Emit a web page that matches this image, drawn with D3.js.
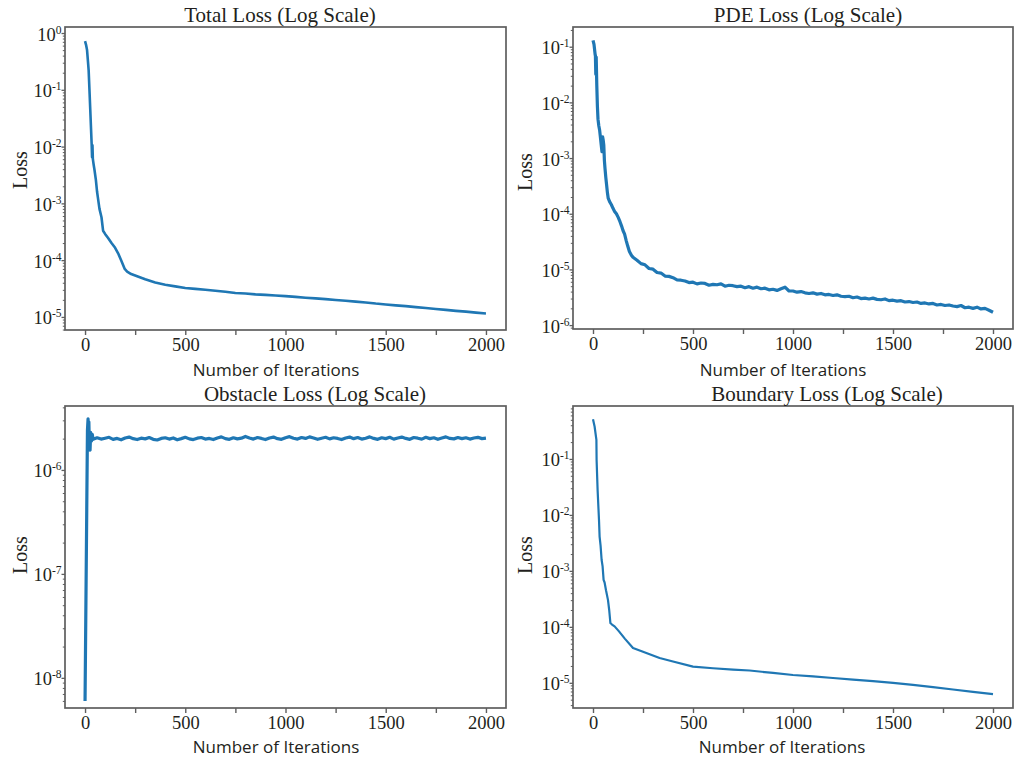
<!DOCTYPE html>
<html>
<head>
<meta charset="utf-8">
<script src="https://cdn.jsdelivr.net/npm/d3@7/dist/d3.min.js"></script>
<style>
    body { margin: 0; background: #fff; }
</style>
</head>
<body>
<svg id="fig" width="1018" height="758"></svg>
<script>
// ---- data ----
const totalIter = [0, 5, 10, 15, 18, 22, 26, 30, 33, 35, 37, 39, 43, 47, 54, 60, 65, 72, 82, 90,
    100, 115, 132, 150, 165, 180, 198, 210, 230, 260, 300, 350, 400, 450,
    500, 550, 600, 650, 700, 750, 800, 850, 900, 950, 1000, 1050, 1100, 1150, 1200, 1250,
    1300, 1350, 1400, 1450, 1500, 1550, 1600, 1650, 1700, 1750, 1800, 1850, 1900, 1950, 2000];
const totalLoss = [0.72, 0.62, 0.5, 0.3, 0.22, 0.1, 0.045, 0.02, 0.011, 0.0065, 0.0105, 0.006, 0.0048, 0.0039, 0.0026, 0.0016, 0.0012, 0.0008, 0.00057, 0.00033,
    0.00029, 0.000245, 0.0002, 0.000165, 0.000132, 0.0001, 0.00007, 0.000063, 0.000057, 0.000052, 0.000046, 0.0000405, 0.000037, 0.0000345,
    3.24e-5, 3.12e-5, 3.02e-5, 2.90e-5, 2.78e-5, 2.64e-5, 2.58e-5, 2.50e-5, 2.45e-5, 2.38e-5, 2.33e-5, 2.26e-5, 2.18e-5, 2.12e-5, 2.06e-5, 1.99e-5,
    1.93e-5, 1.86e-5, 1.80e-5, 1.72e-5, 1.66e-5, 1.60e-5, 1.55e-5, 1.49e-5, 1.44e-5, 1.38e-5, 1.33e-5, 1.28e-5, 1.24e-5, 1.19e-5, 1.15e-5];

const pdeIter = [0, 5, 11, 12, 14, 16, 19, 22, 25, 29, 33, 38, 42, 45, 48, 51, 54, 57, 60, 64,
    68, 72, 76, 83, 92, 100, 108, 117, 126, 135, 143, 150, 158, 166, 174, 182, 192, 200,
    220, 240, 260, 280, 300, 320, 340, 360, 380, 400, 420, 440, 460, 480, 500, 520, 540, 560, 580, 600,
    620, 640, 660, 680, 700, 720, 740, 760, 780, 800, 820, 840, 860, 880, 900, 920, 940, 960, 980, 1000,
    1020, 1040, 1060, 1080, 1100, 1120, 1140, 1160, 1180, 1200, 1220, 1240, 1260, 1280, 1300, 1320, 1340, 1360, 1380, 1400,
    1420, 1440, 1460, 1480, 1500, 1520, 1540, 1560, 1580, 1600, 1620, 1640, 1660, 1680, 1700, 1720, 1740, 1760, 1780, 1800,
    1820, 1840, 1860, 1880, 1900, 1920, 1940, 1960, 1980, 2000];
const pdeLoss = [0.13, 0.11, 0.071, 0.07, 0.032, 0.065, 0.02, 0.0085, 0.005, 0.0038, 0.0032, 0.0022, 0.0016, 0.0013, 0.0024, 0.0021, 0.0017, 0.0009, 0.00065, 0.00045,
    0.00033, 0.00024, 0.00019, 0.000165, 0.000145, 0.000125, 0.00011, 0.0001, 0.000086, 0.000072, 0.00006, 0.00005, 0.000043, 0.000033, 0.000026, 0.000021, 0.000018, 0.0000165,
    1.46e-5, 1.27e-5, 1.21e-5, 1.04e-5, 1.01e-5, 8.8e-6, 8.6e-6, 7.6e-6, 7.5e-6, 7.1e-6, 6.5e-6, 6.4e-6, 6.2e-6, 5.8e-6, 5.9e-6, 5.5e-6, 5.7e-6, 5.6e-6, 5.2e-6, 5.4e-6,
    5.3e-6, 5.5e-6, 5.0e-6, 5.2e-6, 5.1e-6, 4.9e-6, 5.0e-6, 4.7e-6, 4.9e-6, 4.6e-6, 4.8e-6, 4.5e-6, 4.6e-6, 4.3e-6, 4.4e-6, 4.2e-6, 4.5e-6, 4.8e-6, 4.1e-6, 4.1e-6,
    3.9e-6, 4.0e-6, 3.8e-6, 3.7e-6, 3.8e-6, 3.6e-6, 3.7e-6, 3.5e-6, 3.55e-6, 3.4e-6, 3.5e-6, 3.3e-6, 3.25e-6, 3.3e-6, 3.1e-6, 3.2e-6, 3.0e-6, 3.05e-6, 2.95e-6, 3.05e-6,
    2.9e-6, 2.85e-6, 2.95e-6, 2.75e-6, 2.8e-6, 2.7e-6, 2.75e-6, 2.6e-6, 2.65e-6, 2.55e-6, 2.6e-6, 2.45e-6, 2.5e-6, 2.4e-6, 2.45e-6, 2.3e-6, 2.35e-6, 2.25e-6, 2.3e-6, 2.2e-6,
    2.15e-6, 2.25e-6, 2.05e-6, 2.1e-6, 2.0e-6, 2.1e-6, 1.95e-6, 2.0e-6, 1.85e-6, 1.7e-6];

const obstacleIter = [0, 12, 15, 17, 19, 22, 25, 28, 32, 36, 40,
    60, 80, 100, 120, 140, 160, 180, 200, 220, 240, 260, 280, 300, 320, 340, 360, 380, 400, 420, 440,
    460, 480, 500, 520, 540, 560, 580, 600, 620, 640, 660, 680, 700, 720, 740, 760, 780, 800, 820, 840,
    860, 880, 900, 920, 940, 960, 980, 1000, 1020, 1040, 1060, 1080, 1100, 1120, 1140, 1160, 1180, 1200, 1220, 1240,
    1260, 1280, 1300, 1320, 1340, 1360, 1380, 1400, 1420, 1440, 1460, 1480, 1500, 1520, 1540, 1560, 1580, 1600, 1620, 1640,
    1660, 1680, 1700, 1720, 1740, 1760, 1780, 1800, 1820, 1840, 1860, 1880, 1900, 1920, 1940, 1960, 1980, 2000];
const obstacleLoss = [6e-9, 2.4e-6, 3.1e-6, 2.2e-6, 2.9e-6, 1.6e-6, 1.55e-6, 2.3e-6, 1.9e-6, 2.2e-6, 1.97e-6,
    2.04e-6, 1.98e-6, 2.02e-6, 2.06e-6, 1.97e-6, 2.01e-6, 1.95e-6, 2.03e-6, 2.07e-6, 2.00e-6,
    1.96e-6, 2.02e-6, 1.99e-6, 2.05e-6, 1.97e-6, 1.94e-6, 2.01e-6, 2.04e-6, 1.98e-6, 2.03e-6,
    1.95e-6, 2.00e-6, 2.06e-6, 1.99e-6, 1.96e-6, 2.02e-6, 2.05e-6, 1.98e-6, 2.01e-6, 1.96e-6,
    2.03e-6, 2.08e-6, 2.00e-6, 1.97e-6, 2.04e-6, 1.99e-6, 2.02e-6, 2.10e-6, 2.03e-6, 1.98e-6,
    2.05e-6, 2.01e-6, 1.96e-6, 2.03e-6, 2.07e-6, 2.00e-6, 1.97e-6, 2.04e-6, 2.09e-6, 2.02e-6,
    1.98e-6, 2.05e-6, 2.01e-6, 2.08e-6, 2.03e-6, 1.97e-6, 2.02e-6, 2.06e-6, 1.99e-6, 2.04e-6,
    2.01e-6, 1.96e-6, 2.03e-6, 2.07e-6, 2.00e-6, 2.05e-6, 1.98e-6, 2.02e-6, 2.08e-6, 2.01e-6,
    1.97e-6, 2.04e-6, 2.00e-6, 2.06e-6, 1.98e-6, 2.03e-6, 2.07e-6, 2.01e-6, 1.97e-6, 2.05e-6,
    2.02e-6, 1.98e-6, 2.06e-6, 2.00e-6, 2.04e-6, 1.97e-6, 2.03e-6, 2.08e-6, 2.01e-6, 1.99e-6,
    2.05e-6, 2.00e-6, 2.04e-6, 1.98e-6, 2.03e-6, 2.06e-6, 2.00e-6, 2.02e-6];

const boundaryIter = [0, 8, 17, 18, 23, 30, 33, 38, 43, 48, 53, 58, 65, 75, 81, 87, 95, 108, 130, 160,
    200, 250, 333, 400, 500, 600, 700, 783, 900, 1000, 1100, 1200, 1300, 1400, 1500, 1600, 1700, 1800, 1900, 2000];
const boundaryLoss = [0.51, 0.38, 0.22, 0.096, 0.028, 0.0081, 0.0041, 0.0028, 0.00158, 0.0012, 0.00069, 0.00062, 0.00045, 0.0003, 0.0002, 0.000117, 0.00011, 0.000102, 0.000083, 0.000061,
    4.2e-5, 3.6e-5, 2.77e-5, 2.4e-5, 1.95e-5, 1.82e-5, 1.72e-5, 1.66e-5, 1.5e-5, 1.38e-5, 1.3e-5, 1.22e-5, 1.14e-5, 1.07e-5, 1.0e-5, 9.2e-6, 8.4e-6, 7.6e-6, 6.9e-6, 6.3e-6];

const xTickValues = [0, 250, 500, 750, 1000, 1250, 1500, 1750, 2000];

// ---- layout ----
const serif = "'Liberation Serif', 'Times New Roman', serif";
const sans = "'Open Sans', 'DejaVu Sans', sans-serif";
const ink = "#231f20";
const axisGray = "#5e5e5e";

const panels = [
    {key: "total", title: "Total Loss (Log Scale)", iter: totalIter, loss: totalLoss,
        left: 65, right: 506, top: 27, bottom: 330, yDomain: [Math.pow(10, -5.23), Math.pow(10, 0.106)],
        yMajors: [1e-5, 1e-4, 1e-3, 1e-2, 1e-1, 1], lw: 2.6,
        titleX: 280, titleY: 22, xLabelX: 276, xLabelY: 376, yLabelX: 27, yLabelY: 170},
    {key: "pde", title: "PDE Loss (Log Scale)", iter: pdeIter, loss: pdeLoss,
        left: 573, right: 1013, top: 27, bottom: 329, yDomain: [Math.pow(10, -6.07), Math.pow(10, -0.646)],
        yMajors: [1e-6, 1e-5, 1e-4, 1e-3, 1e-2, 1e-1], lw: 3.2,
        titleX: 808, titleY: 22, xLabelX: 783, xLabelY: 376, yLabelX: 532, yLabelY: 172},
    {key: "obstacle", title: "Obstacle Loss (Log Scale)", iter: obstacleIter, loss: obstacleLoss,
        left: 65, right: 506, top: 406, bottom: 708, yDomain: [Math.pow(10, -8.29), Math.pow(10, -5.385)],
        yMajors: [1e-8, 1e-7, 1e-6], lw: 3.2,
        titleX: 315, titleY: 401, xLabelX: 276, xLabelY: 753, yLabelX: 27, yLabelY: 555},
    {key: "boundary", title: "Boundary Loss (Log Scale)", iter: boundaryIter, loss: boundaryLoss,
        left: 573, right: 1013, top: 406, bottom: 708, yDomain: [Math.pow(10, -5.45), Math.pow(10, -0.054)],
        yMajors: [1e-5, 1e-4, 1e-3, 1e-2, 1e-1], lw: 2.2,
        titleX: 827, titleY: 401, xLabelX: 782, xLabelY: 753, yLabelX: 532, yLabelY: 555}
];

const svg = d3.select("#fig");
const defs = svg.append("defs");

function minorTicks(domain) {
    const lo = Math.floor(Math.log10(domain[0]));
    const hi = Math.ceil(Math.log10(domain[1]));
    const out = [];
    for (let k = lo; k <= hi; k++) {
        for (let m = 2; m <= 9; m++) {
            const v = m * Math.pow(10, k);
            if (v >= domain[0] && v <= domain[1]) out.push(v);
        }
    }
    return out;
}

function drawPanel(p) {
    const x = d3.scaleLinear().domain([-100, 2100]).range([p.left, p.right]);
    const y = d3.scaleLog().domain(p.yDomain).range([p.bottom, p.top]);
    const g = svg.append("g").attr("class", "panel-" + p.key);

    defs.append("clipPath").attr("id", "clip-" + p.key)
        .append("rect")
        .attr("x", p.left).attr("y", p.top)
        .attr("width", p.right - p.left).attr("height", p.bottom - p.top);

    const line = d3.line()
        .x(d => x(d[0]))
        .y(d => y(d[1]));

    g.append("path")
        .datum(d3.zip(p.iter, p.loss))
        .attr("clip-path", "url(#clip-" + p.key + ")")
        .attr("fill", "none")
        .attr("stroke", "#1f77b4")
        .attr("stroke-width", p.lw)
        .attr("stroke-linejoin", "round")
        .attr("d", line);

    // x axis
    const xAxis = g.append("g")
        .attr("transform", "translate(0," + p.bottom + ")")
        .call(d3.axisBottom(x).tickValues(xTickValues).tickSize(5).tickPadding(3)
            .tickFormat(d => d % 500 === 0 ? d : ""));
    xAxis.select(".domain").remove();
    xAxis.selectAll(".tick line").attr("stroke", axisGray).attr("stroke-width", 1.4);
    xAxis.selectAll(".tick text")
        .attr("fill", ink)
        .style("font-family", serif)
        .style("font-size", "18.5px");

    // y axis minor ticks
    const yMinor = g.append("g")
        .attr("transform", "translate(" + p.left + ",0)")
        .call(d3.axisLeft(y).tickValues(minorTicks(p.yDomain)).tickSize(2.2).tickFormat(""));
    yMinor.select(".domain").remove();
    yMinor.selectAll(".tick line").attr("stroke", axisGray).attr("stroke-width", 1);

    // y axis major ticks with 10^n labels
    const yAxis = g.append("g")
        .attr("transform", "translate(" + p.left + ",0)")
        .call(d3.axisLeft(y).tickValues(p.yMajors).tickSize(3.5).tickPadding(0).tickFormat(() => "10"));
    yAxis.select(".domain").remove();
    yAxis.selectAll(".tick line").attr("stroke", axisGray).attr("stroke-width", 1.3);
    yAxis.selectAll(".tick text")
        .attr("fill", ink)
        .attr("dy", "0.38em")
        .style("font-family", serif)
        .style("font-size", "18.5px");
    yAxis.selectAll(".tick text")
        .append("tspan")
        .attr("dy", "-7")
        .style("font-size", "11.5px")
        .text(d => Math.round(Math.log10(d)));

    // frame
    g.append("rect")
        .attr("x", p.left).attr("y", p.top)
        .attr("width", p.right - p.left).attr("height", p.bottom - p.top)
        .attr("fill", "none")
        .attr("stroke", axisGray)
        .attr("stroke-width", 1.7);

    // title and axis labels
    g.append("text")
        .attr("x", p.titleX).attr("y", p.titleY)
        .attr("text-anchor", "middle")
        .attr("fill", ink)
        .style("font-family", serif)
        .style("font-size", "21px")
        .text(p.title);

    g.append("text")
        .attr("x", p.xLabelX).attr("y", p.xLabelY)
        .attr("text-anchor", "middle")
        .attr("fill", ink)
        .style("font-family", sans)
        .style("font-size", "17px")
        .text("Number of Iterations");

    g.append("text")
        .attr("transform", "translate(" + p.yLabelX + "," + p.yLabelY + ") rotate(-90)")
        .attr("text-anchor", "middle")
        .attr("fill", ink)
        .style("font-family", serif)
        .style("font-size", "20px")
        .text("Loss");
}

panels.forEach(drawPanel);
</script>
</body>
</html>
